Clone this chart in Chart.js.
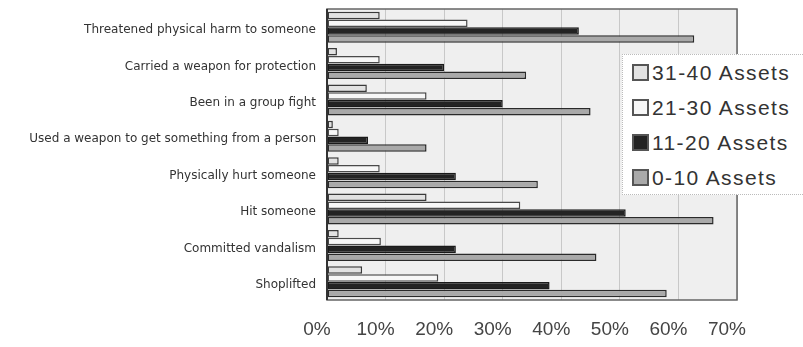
<!DOCTYPE html>
<html>
<head>
<meta charset="utf-8">
<script src="https://cdn.jsdelivr.net/npm/chart.js@4/dist/chart.umd.min.js"></script>
<style>
  html, body { margin: 0; padding: 0; background: #fff; }
  #wrap { position: relative; width: 803px; height: 347px; }
  #legend {
    position: absolute; left: 622px; top: 54px; width: 181px; height: 141px;
    background: #fff; border: 1px dotted #bbb; border-right: none; box-sizing: border-box;
    font-family: "Liberation Sans", Arial, sans-serif; font-size: 21px; letter-spacing: 1.4px; color: #333;
  }
  .item { display: flex; align-items: center; height: 35px; padding-left: 9px; }
  .sw { width: 13px; height: 13px; border: 2px solid #555; margin-right: 3px; flex: none; }
</style>
</head>
<body>
<div id="wrap">
  <canvas id="c" width="803" height="347"></canvas>
  <div id="legend"></div>
</div>
<script>
const categories = [
  "Threatened physical harm to someone",
  "Carried a weapon for protection",
  "Been in a group fight",
  "Used a weapon to get something from a person",
  "Physically hurt someone",
  "Hit someone",
  "Committed vandalism",
  "Shoplifted"
];
const seriesNames = ["31-40 Assets", "21-30 Assets", "11-20 Assets", "0-10 Assets"];
const assets31to40 = [9, 1.7, 6.8, 1, 2, 17, 2, 6];
const assets21to30 = [24, 9, 17, 2, 9, 33, 9.2, 19];
const assets11to20 = [43, 20, 30, 7, 22, 51, 22, 38];
const assets0to10  = [62.7, 34, 45, 17, 36, 66, 46, 58];
const xTicks = [0, 10, 20, 30, 40, 50, 60, 70];

const fills = ["#e2e2e2", "#f7f7f7", "#232323", "#a9a9a9"];
const borders = ["#3a3a3a", "#4a4a4a", "#1a1a1a", "#2a2a2a"];
const values = [assets31to40, assets21to30, assets11to20, assets0to10];

const datasets = seriesNames.map((name, i) => ({
  label: name,
  data: values[i],
  backgroundColor: fills[i],
  borderColor: borders[i],
  borderWidth: 1.5,
  borderSkipped: false,
  categoryPercentage: 0.86,
  barPercentage: 0.96
}));

// plot background and frame
const frame = {
  id: "frame",
  beforeDraw(chart) {
    const { ctx, chartArea: a } = chart;
    ctx.save();
    ctx.fillStyle = "#efefef";
    ctx.fillRect(a.left, a.top, a.right - a.left, a.bottom - a.top);
    ctx.restore();
  },
  afterDatasetsDraw(chart) {
    const { ctx, chartArea: a } = chart;
    ctx.save();
    ctx.strokeStyle = "#666";
    ctx.lineWidth = 1.5;
    ctx.strokeRect(a.left, a.top, a.right - a.left, a.bottom - a.top);
    ctx.strokeStyle = "#333";
    ctx.lineWidth = 2;
    ctx.beginPath();
    ctx.moveTo(a.left, a.top);
    ctx.lineTo(a.left, a.bottom);
    ctx.stroke();
    ctx.restore();
  }
};

const chart = new Chart(document.getElementById("c"), {
  type: "bar",
  data: { labels: categories, datasets },
  plugins: [frame],
  options: {
    indexAxis: "y",
    responsive: false,
    animation: false,
    layout: { padding: { left: 0, right: 66, top: 9, bottom: 0 } },
    plugins: { legend: { display: false }, tooltip: { enabled: false } },
    scales: {
      x: {
        min: 0, max: 70,
        afterFit(s) { s.height = 47; s.paddingLeft = 0; s.paddingRight = 0; },
        afterBuildTicks(s) { s.ticks = xTicks.map(v => ({ value: v })); },
        grid: { color: "#c8c8c8", drawTicks: false },
        border: { display: false },
        ticks: {
          padding: 18,
          labelOffset: -10,
          color: "#444",
          font: { family: "Liberation Sans, Arial, sans-serif", size: 19 },
          callback: v => v + "%"
        }
      },
      y: {
        afterFit(s) { s.width = 327; s.paddingTop = 0; s.paddingBottom = 0; },
        grid: { display: false, drawTicks: false },
        border: { display: false },
        ticks: {
          padding: 11,
          labelOffset: 3,
          color: "#333",
          font: { family: "DejaVu Sans, sans-serif", size: 12 }
        }
      }
    }
  }
});

// legend entries built from the datasets
const legend = document.getElementById("legend");
datasets.forEach(d => {
  const row = document.createElement("div");
  row.className = "item";
  const sw = document.createElement("span");
  sw.className = "sw";
  sw.style.background = d.backgroundColor;
  const t = document.createElement("span");
  t.textContent = d.label;
  row.appendChild(sw);
  row.appendChild(t);
  legend.appendChild(row);
});
</script>
</body>
</html>
